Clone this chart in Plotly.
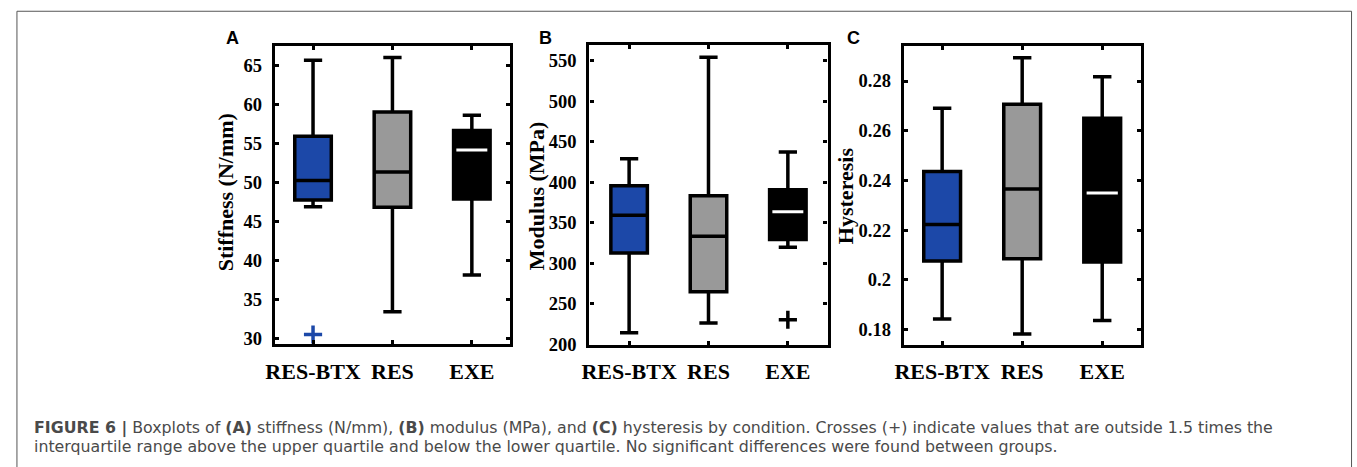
import plotly.graph_objects as go

W, H = 1357, 467

groups = ["RES-BTX", "RES", "EXE"]
positions = [1, 2, 3]
fill_colors = ["#1c48a8", "#999999", "#000000"]
median_colors = ["#000000", "#000000", "#ffffff"]

# Panel A: stiffness (N/mm)
stiff_lo = [46.9, 33.46, 38.14]
stiff_q1 = [47.75, 46.83, 47.87]
stiff_med = [50.25, 51.34, 54.14]
stiff_q3 = [55.9, 59.03, 56.65]
stiff_hi = [65.63, 66.0, 58.6]
stiff_out_group = [0]
stiff_out_val = [30.54]
stiff_ticks = [30, 35, 40, 45, 50, 55, 60, 65]

# Panel B: modulus (MPa)
mod_lo = [214.1, 226.2, 319.8]
mod_q1 = [312.6, 264.7, 329.4]
mod_med = [359.2, 333.4, 363.6]
mod_q3 = [395.7, 383.3, 390.9]
mod_hi = [429.1, 554.4, 437.5]
mod_out_group = [2]
mod_out_val = [230.2]
mod_ticks = [200, 250, 300, 350, 400, 450, 500, 550]

# Panel C: hysteresis
hys_lo = [0.1843, 0.1782, 0.1837]
hys_q1 = [0.2076, 0.2085, 0.2072]
hys_med = [0.2223, 0.2366, 0.2349]
hys_q3 = [0.2436, 0.2706, 0.2650]
hys_hi = [0.2690, 0.2894, 0.2817]
hys_out_group = []
hys_out_val = []
hys_ticks = [0.18, 0.2, 0.22, 0.24, 0.26, 0.28]
hys_ticktext = ["0.18", "0.2", "0.22", "0.24", "0.26", "0.28"]

panel_letters = ["A", "B", "C"]
ytitles = ["Stiffness (N/mm)", "Modulus (MPa)", "Hysteresis"]

caption1 = ("<b>FIGURE 6 |</b> Boxplots of <b>(A)</b> stiffness (N/mm), <b>(B)</b> modulus (MPa), "
            "and <b>(C)</b> hysteresis by condition. Crosses (+) indicate values that are outside 1.5 times the")
caption2 = ("interquartile range above the upper quartile and below the lower quartile. "
            "No significant differences were found between groups.")

# ---- layout geometry (pixels) ----
panels_px = [
    dict(x=(267.7, 504.3), y=(46.7, 351.7), xr=[0.52, 3.48], yr=[29.3, 67.5]),
    dict(x=(584.3, 824.0), y=(45.7, 352.3), xr=[0.5, 3.5], yr=[199.3, 570.0]),
    dict(x=(900.7, 1140.0), y=(46.7, 352.3), xr=[0.52, 3.49], yr=[0.1739, 0.2942]),
]
letter_px = [(225, 38.5), (540, 38.5), (850, 38.5)]
ytitle_px = [(218, 197), (531, 200), (842, 200)]

def px2x(px):
    return px / W

def px2y(py):
    return 1 - py / H

data = [
    (stiff_lo, stiff_q1, stiff_med, stiff_q3, stiff_hi, stiff_out_group, stiff_out_val, stiff_ticks, [str(t) for t in stiff_ticks]),
    (mod_lo, mod_q1, mod_med, mod_q3, mod_hi, mod_out_group, mod_out_val, mod_ticks, [str(t) for t in mod_ticks]),
    (hys_lo, hys_q1, hys_med, hys_q3, hys_hi, hys_out_group, hys_out_val, hys_ticks, hys_ticktext),
]

BOX_W = 0.46
MED_HALF = 0.195

fig = go.Figure()
serif = "Liberation Serif, Times New Roman, serif"
sans = "Liberation Sans, Arial, sans-serif"
cap_font = "DejaVu Sans, Liberation Sans, sans-serif"

for p, (lo, q1, med, q3, hi, og, ov, ticks, ticktext) in enumerate(data):
    xa = "x" if p == 0 else f"x{p+1}"
    ya = "y" if p == 0 else f"y{p+1}"
    for g in range(3):
        fig.add_trace(go.Box(
            x=[positions[g]], q1=[q1[g]], median=[med[g]], q3=[q3[g]],
            lowerfence=[lo[g]], upperfence=[hi[g]],
            width=BOX_W, whiskerwidth=0.5, boxpoints=False,
            fillcolor=fill_colors[g], line=dict(color="black", width=3.5),
            xaxis=xa, yaxis=ya, showlegend=False, hoverinfo="skip",
        ))
        if median_colors[g] != "#000000":
            fig.add_trace(go.Scatter(
                x=[positions[g] - MED_HALF, positions[g] + MED_HALF], y=[med[g], med[g]],
                mode="lines", line=dict(color=median_colors[g], width=3),
                xaxis=xa, yaxis=ya, showlegend=False, hoverinfo="skip",
            ))
    if og:
        fig.add_trace(go.Scatter(
            x=[positions[g] for g in og], y=ov, mode="markers",
            marker=dict(symbol="cross-thin", size=13,
                        line=dict(width=3.5, color=[fill_colors[g] for g in og])),
            xaxis=xa, yaxis=ya, showlegend=False, hoverinfo="skip",
        ))

    pp = panels_px[p]
    axis_common = dict(showline=True, linewidth=3.2, linecolor="black", mirror="ticks",
                       ticks="inside", ticklen=4, tickwidth=2.5, tickcolor="black",
                       showgrid=False, zeroline=False)
    xkey = "xaxis" if p == 0 else f"xaxis{p+1}"
    ykey = "yaxis" if p == 0 else f"yaxis{p+1}"
    fig.update_layout(**{
        xkey: dict(domain=[px2x(pp["x"][0]), px2x(pp["x"][1])], range=pp["xr"],
                   tickvals=positions, ticktext=groups, anchor=ya,
                   tickfont=dict(family=serif, size=22, color="black", weight="bold"),
                   ticklabelstandoff=5,
                   **axis_common),
        ykey: dict(domain=[px2y(pp["y"][1]), px2y(pp["y"][0])], range=pp["yr"],
                   tickvals=ticks, ticktext=ticktext, anchor=xa,
                   tickfont=dict(family=serif, size=18.5, color="black", weight="bold"),
                   ticklabelstandoff=6,
                   **axis_common),
    })

annotations = []
for p in range(3):
    lx, ly = letter_px[p]
    annotations.append(dict(x=px2x(lx), y=px2y(ly), xref="paper", yref="paper",
                            text=f"<b>{panel_letters[p]}</b>", showarrow=False,
                            xanchor="center", yanchor="middle",
                            font=dict(family=sans, size=18, color="black")))
    tx, ty = ytitle_px[p]
    annotations.append(dict(x=px2x(tx), y=px2y(ty), xref="paper", yref="paper",
                            text=f"<b>{ytitles[p]}</b>", showarrow=False, textangle=-90,
                            xanchor="center", yanchor="middle",
                            font=dict(family=serif, size=22, color="black")))

annotations.append(dict(x=px2x(23), y=px2y(437), xref="paper", yref="paper",
                        text=caption1, showarrow=False, xanchor="left", yanchor="middle",
                        font=dict(family=cap_font, size=15.8, color="#4a4a4a")))
annotations.append(dict(x=px2x(23), y=px2y(456), xref="paper", yref="paper",
                        text=caption2, showarrow=False, xanchor="left", yanchor="middle",
                        font=dict(family=cap_font, size=15.8, color="#4a4a4a")))

fig.update_layout(
    width=W, height=H, margin=dict(l=0, r=0, t=0, b=0),
    paper_bgcolor="white", plot_bgcolor="white",
    annotations=annotations, boxmode="overlay", showlegend=False,
    shapes=[dict(type="rect", xref="paper", yref="paper",
                 x0=px2x(8.0), x1=px2x(1351.5), y0=-0.05, y1=px2y(11.5),
                 line=dict(color="#555555", width=1), fillcolor="rgba(0,0,0,0)", layer="below")],
)

fig.write_html("out.html")
